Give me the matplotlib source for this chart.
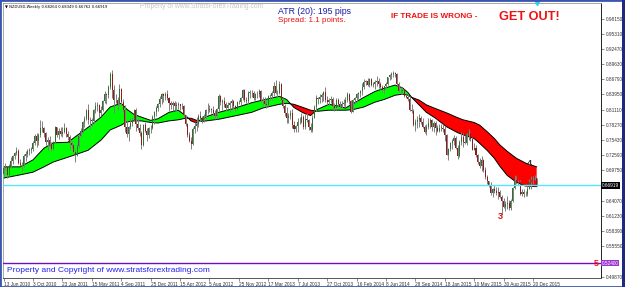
import numpy as np
import matplotlib
matplotlib.use("Agg")
import matplotlib.pyplot as plt
from matplotlib.patches import Rectangle

plt.rcParams['font.family'] = ['Liberation Sans', 'DejaVu Sans']

# ---------------- data (prices in 1e-4 units) ----------------
first_open = 6900
close_2010 = [7010,7030,6880,7060,7150,7250,7300,7340,7120,7080,7070,7240,7280,7330,7360,7370,7480,7620,7520,7640,7770,7770,7680,7510,7540,7460,7370,7500,7780]
high_2010  = [7040,7120,7050,7090,7230,7270,7320,7420,7380,7180,7130,7280,7330,7380,7400,7420,7520,7660,7670,7680,7920,7890,7790,7690,7600,7610,7510,7530,7800]
low_2010   = [6880,6990,6830,6860,7020,7090,7180,7260,7090,7050,6960,7040,7150,7220,7260,7300,7330,7440,7420,7450,7600,7700,7600,7450,7350,7420,7330,7350,7480]

close_2011 = [7630,7720,7650,7700,7770,7650,7600,7480,7440,7320,7270,7430,7610,7720,7870,7940,8110,7910,7910,7900,8110,8180,8190,8050,8110,8270,8400,8390,8530,8770,8480,8290,8290,8220,8500,8250,8110,7780,7660,7790,7860,7920,8100,7840,7760,7670,7450,7820,7710,7630,7760,7770]
high_2011  = [7790,7760,7790,7780,7860,7790,7720,7640,7530,7460,7380,7460,7630,7760,7900,7990,8130,8210,7980,7960,8130,8250,8260,8220,8180,8300,8450,8420,8580,8810,8843,8570,8410,8350,8590,8520,8310,8190,7920,7800,7950,7970,8130,8150,7960,7850,7720,7850,7870,7770,7790,7820]
low_2011   = [7600,7560,7620,7590,7680,7600,7550,7360,7390,7290,7130,7240,7400,7590,7680,7780,7920,7850,7750,7800,7860,8040,8090,7970,8000,8080,8240,8210,8320,8500,8330,8040,8230,8110,8200,8190,8070,7700,7600,7530,7750,7810,7910,7720,7730,7620,7370,7430,7690,7530,7580,7680]

close_2012 = [7970,8060,8140,8220,8310,8400,8360,8400,8320,8240,8190,8240,8170,8190,8210,8180,8170,8010,7850,7630,7530,7460,7750,7800,7850,8000,7950,7890,8000,8100,8110,8120,8100,8050,7990,8130,8370,8250,8280,8220,8150,8200,8230,8280,8170,8120,8250,8250,8330,8480,8290,8270,8430]
high_2012  = [8010,8080,8170,8240,8360,8430,8430,8440,8480,8340,8280,8270,8270,8250,8250,8220,8230,8190,8010,7860,7700,7590,7780,7880,7970,8020,8090,7990,8030,8130,8230,8200,8150,8180,8100,8150,8400,8380,8310,8350,8260,8260,8270,8310,8300,8200,8270,8290,8350,8500,8490,8340,8450]
low_2012   = [7750,7850,8000,8080,8160,8220,8250,8300,8290,8080,8130,8080,8110,8080,8130,8100,8120,7970,7810,7600,7510,7370,7450,7680,7720,7780,7900,7860,7870,7940,8030,8070,8050,8010,7930,7930,8090,8190,8110,8160,8090,8140,8070,8150,8130,8090,8100,8210,8200,8300,8260,8230,8220]

close_2013 = [8430,8420,8330,8400,8400,8460,8290,8280,8210,8200,8360,8370,8420,8560,8430,8420,8590,8300,8170,8050,7950,7990,8050,7830,7740,7800,7880,7870,7970,7790,7940,7920,7780,7730,7960,8160,8320,8310,8350,8390,8440,8300,8260,8300,8310,8170,8140,8290,8210,8170,8220,8240]
high_2013  = [8470,8480,8460,8420,8450,8500,8470,8340,8340,8290,8390,8410,8450,8620,8670,8480,8640,8600,8320,8210,8160,8050,8100,8120,7890,7820,7950,7970,8040,8010,8030,8040,7930,7860,8010,8190,8390,8350,8410,8420,8450,8530,8370,8330,8370,8340,8240,8320,8330,8270,8270,8310]
low_2013   = [8320,8340,8300,8290,8330,8350,8250,8190,8170,8150,8180,8290,8300,8370,8400,8350,8410,8280,8150,8000,7860,7860,7940,7760,7700,7690,7690,7840,7860,7740,7750,7880,7730,7690,7690,7950,8080,8220,8240,8250,8270,8260,8190,8200,8240,8130,8080,8110,8160,8140,8150,8180]

close_2014 = [8300,8410,8270,8070,8300,8320,8400,8430,8450,8530,8630,8640,8580,8680,8580,8590,8620,8650,8590,8540,8480,8550,8590,8720,8750,8770,8800,8780,8590,8460,8450,8480,8370,8350,8310,8100,8080,7830,7880,7910,7950,7870,7790,7690,7790,7860,7920,7790,7860,7760,7720,7770]
high_2014  = [8340,8440,8420,8290,8310,8350,8430,8440,8480,8600,8680,8660,8700,8710,8700,8630,8660,8740,8700,8620,8570,8560,8620,8730,8780,8810,8836,8820,8800,8620,8530,8540,8500,8410,8410,8360,8210,8130,7940,7990,8030,8000,7960,7820,7850,7950,7960,7930,7890,7900,7830,7840]
low_2014   = [8160,8260,8210,8050,8060,8220,8250,8310,8340,8390,8500,8570,8550,8530,8550,8540,8500,8560,8520,8500,8440,8420,8490,8570,8660,8680,8730,8720,8550,8440,8400,8410,8340,8320,8280,8080,8050,7800,7710,7770,7780,7840,7770,7680,7630,7750,7770,7720,7700,7630,7700,7700]

close_2015 = [7770,7740,7630,7270,7370,7480,7530,7580,7400,7250,7500,7590,7500,7490,7650,7670,7560,7360,7400,7260,7130,7050,7160,6990,6850,6770,6700,6550,6620,6580,6550,6560,6480,6400,6290,6340,6370,6270,6400,6650,6800,6740,6750,6540,6560,6530,6540,6630,6760,6790,6800,6826]
high_2015  = [7840,7850,7800,7660,7400,7500,7570,7640,7620,7440,7550,7690,7670,7630,7670,7740,7700,7600,7480,7440,7280,7210,7250,7180,7030,6880,6780,6760,6640,6700,6670,6660,6600,6520,6460,6400,6490,6420,6430,6660,6890,6860,6790,6790,6620,6630,6590,6680,6820,6860,6860,6880]
low_2015   = [7720,7700,7530,7260,7170,7330,7380,7450,7380,7180,7230,7440,7420,7470,7450,7550,7530,7350,7350,7220,7090,7020,6960,6950,6820,6720,6660,6520,6480,6550,6520,6430,6460,6130,6270,6210,6260,6240,6240,6380,6620,6720,6700,6520,6490,6480,6500,6500,6620,6620,6720,6790]

close_2016 = [6692]
high_2016  = [6835]
low_2016   = [6676]

date_labels = ["13 Jun 2010", "3 Oct 2010", "23 Jan 2011", "15 May 2011", "4 Sep 2011",
               "25 Dec 2011", "15 Apr 2012", "5 Aug 2012", "25 Nov 2012", "17 Mar 2013",
               "7 Jul 2013", "27 Oct 2013", "16 Feb 2014", "8 Jun 2014", "28 Sep 2014",
               "18 Jan 2015", "10 May 2015", "30 Aug 2015", "20 Dec 2015"]
label_step_weeks = 16

# visible price-scale labels (levels hidden behind the price boxes are left out)
ytick_values = [0.98150, 0.95310, 0.92470, 0.89630, 0.86790, 0.83950, 0.81110, 0.78270,
                0.75430, 0.72590, 0.69750, 0.64070, 0.61230, 0.58390, 0.55550, 0.49870]

# moving-average ribbon (fast / slow) read at selected weeks
ribbon_week = [0, 9, 16, 22, 27, 35, 46, 53, 58, 64, 67, 71, 75, 80, 84, 90, 95, 99, 102, 105,
               108, 117, 124, 135, 141, 150, 154, 158, 163, 167, 171, 177, 182, 186, 190, 196,
               202, 207, 213, 217, 220, 222, 226, 230, 235, 241, 247, 250, 256, 259, 263, 267,
               270, 274, 279, 284, 290]
ribbon_fast = [0.704,0.704,0.717,0.739,0.749,0.750,0.778,0.797,0.816,0.823,0.812,0.802,0.797,0.791,
               0.794,0.806,0.810,0.800,0.790,0.786,0.795,0.806,0.812,0.824,0.829,0.836,0.830,0.815,
               0.805,0.800,0.812,0.821,0.818,0.814,0.822,0.834,0.845,0.851,0.857,0.852,0.843,0.834,
               0.820,0.806,0.795,0.779,0.768,0.764,0.757,0.748,0.735,0.720,0.705,0.688,0.675,0.668,0.667]
ribbon_slow = [0.683,0.689,0.694,0.704,0.713,0.722,0.735,0.754,0.773,0.782,0.788,0.790,0.790,0.787,
               0.786,0.790,0.792,0.795,0.795,0.791,0.789,0.793,0.798,0.806,0.814,0.821,0.823,0.821,
               0.815,0.810,0.808,0.810,0.810,0.810,0.811,0.816,0.825,0.830,0.838,0.840,0.838,0.834,
               0.829,0.820,0.813,0.805,0.796,0.792,0.787,0.782,0.770,0.757,0.745,0.733,0.720,0.711,0.704]

current_price = 0.66919
level_price = 0.52400
last_ohlc = "0.68264 0.68349 0.66762 0.66919"

# ---------------- assemble ----------------
closes = np.array(close_2010 + close_2011 + close_2012 + close_2013 + close_2014 + close_2015 + close_2016) / 1e4
highs = np.array(high_2010 + high_2011 + high_2012 + high_2013 + high_2014 + high_2015 + high_2016) / 1e4
lows = np.array(low_2010 + low_2011 + low_2012 + low_2013 + low_2014 + low_2015 + low_2016) / 1e4
opens = np.concatenate([[first_open / 1e4], closes[:-1]])
n = len(closes)
weeks = np.arange(n)

W, H = 625, 287
fig = plt.figure(figsize=(W / 100, H / 100), dpi=100)
fig.patch.set_facecolor("white")

ax_l, ax_r, ax_t, ax_b = 3, 601, 3, 278
ax = fig.add_axes([ax_l / W, 1 - ax_b / H, (ax_r - ax_l) / W, (ax_b - ax_t) / H])
ax.set_facecolor("white")
ax.set_xlim(-0.3, 325)
ax.set_ylim(0.4960, 1.0106)

# ribbon
rw = np.array(ribbon_week, dtype=float)
rf = np.array(ribbon_fast)
rs = np.array(ribbon_slow)
ax.fill_between(rw, rf, rs, where=rf >= rs, interpolate=True, color="#00FF00", lw=0, zorder=1)
ax.fill_between(rw, rf, rs, where=rf < rs, interpolate=True, color="#FF0000", lw=0, zorder=1)
ax.plot(rw, rf, color="black", lw=0.7, zorder=1.5)
ax.plot(rw, rs, color="black", lw=0.7, zorder=1.5)

# candles
ax.vlines(weeks, lows, highs, color="#808080", lw=0.7, zorder=2)
up = closes >= opens
body_lo = np.minimum(opens, closes)
body_h = np.maximum(np.abs(closes - opens), 0.0008)
ax.bar(weeks[up], body_h[up], bottom=body_lo[up], width=0.55, color="#2f6f2f", lw=0, zorder=3)
ax.bar(weeks[~up], body_h[~up], bottom=body_lo[~up], width=0.55, color="#8b1c1c", lw=0, zorder=3)

# horizontal lines
ax.axhline(current_price, color="#55E8F2", lw=1.0, zorder=4)
ax.axhline(level_price, color="#6A10C8", lw=1.0, zorder=4)

# axes styling
for s in ["left", "top"]:
    ax.spines[s].set_color("#9a9a9a")
    ax.spines[s].set_linewidth(0.6)
ax.spines["right"].set_color("#222222")
ax.spines["bottom"].set_color("#555555")
ax.spines["right"].set_linewidth(0.7)
ax.spines["bottom"].set_linewidth(0.7)

ax.yaxis.tick_right()
ax.set_yticks(ytick_values)
ax.set_yticklabels([f"{v:.5f}" for v in ytick_values])
ax.tick_params(axis="y", labelsize=3.4, length=2, width=0.4, pad=1.5, colors="#333333")

xt = [i * label_step_weeks for i in range(len(date_labels))]
ax.set_xticks(xt)
ax.set_xticklabels(date_labels, ha="left")
ax.tick_params(axis="x", labelsize=3.4, length=2, width=0.4, pad=1, colors="#333333")

# price label boxes on the axis
ax.text(1.0015, current_price, f"{current_price:.5f}", transform=ax.get_yaxis_transform(),
        fontsize=3.4, color="white", va="center", ha="left",
        bbox=dict(boxstyle="square,pad=0.15", fc="black", ec="black", lw=0), zorder=6, clip_on=False)
ax.text(1.0015, level_price, f"{level_price:.5f}", transform=ax.get_yaxis_transform(),
        fontsize=3.4, color="white", va="center", ha="left",
        bbox=dict(boxstyle="square,pad=0.15", fc="#9A35D0", ec="#9A35D0", lw=0), zorder=6, clip_on=False)

# annotations
ax.text(270, 0.6200, "3", color="#E01010", fontsize=6.5, fontweight="bold", ha="center", va="top", zorder=7)
ax.text(286, 0.7110, "4", color="#333333", fontsize=6.5, fontweight="bold", ha="center", va="center", zorder=7)
ax.text(322.5, level_price, "5", color="#FF1010", fontsize=6.5, fontweight="bold", ha="center", va="center", zorder=7)
ax.plot([290], [1.0106], marker="v", color="#33CCEE", ms=3, clip_on=False, zorder=7)

# figure texts
fig.text(5 / W, 1 - 7 / H, "\u25BC NZDUSD,Weekly " + last_ohlc, fontsize=2.7, color="black",
         va="center", ha="left", family=["DejaVu Sans"])
fig.text(140 / W, 1 - 7 / H, "Property of www.StratsForexTrading.com", fontsize=4.9, color="#c8c8c8",
         va="center", ha="left")
fig.text(278 / W, 1 - 11 / H, "ATR (20): 195 pips", fontsize=6.3, color="#1a1aa8", va="center", ha="left")
fig.text(278 / W, 1 - 21 / H, "Spread: 1.1 points.", fontsize=5.8, color="#EE1111", va="center", ha="left")
fig.text(391 / W, 1 - 17 / H, "IF TRADE IS WRONG - ", fontsize=5.9, color="#EE1111", fontweight="bold",
         va="center", ha="left")
fig.text(499 / W, 1 - 16.5 / H, "GET OUT!", fontsize=9.2, color="#EE1111", fontweight="bold",
         va="center", ha="left")
fig.text(7 / W, 1 - 271 / H, "Property and Copyright of www.stratsforextrading.com", fontsize=6.0,
         color="#2020EE", va="center", ha="left")

# outer window frame
fig.add_artist(Rectangle((0, 0), 1, 1, transform=fig.transFigure, fill=False, ec="#3a56b0", lw=2.0))
fig.add_artist(Rectangle((622 / W, 0), 3 / W, 1, transform=fig.transFigure, fc="#1c2a80", ec="none"))

fig.savefig("out.png", dpi=100)
